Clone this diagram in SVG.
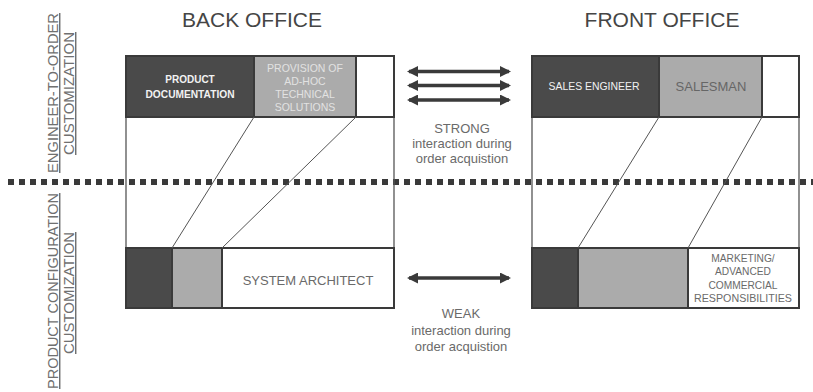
<svg xmlns="http://www.w3.org/2000/svg" width="813" height="392" viewBox="0 0 813 392">
<defs>
<style>
.frame{fill:none;stroke:#555;stroke-width:1.3}
.dark{fill:#4a4a4a;stroke:#3a3a3a;stroke-width:2}
.gray{fill:#ababab;stroke:#3a3a3a;stroke-width:2}
.white{fill:#fff;stroke:#3a3a3a;stroke-width:2}
.t{font-family:"Liberation Sans",Arial,sans-serif;text-anchor:middle}
.head{font-size:21px;fill:#454545}
.side{font-size:14.5px;fill:#707070;text-decoration:underline}
.wt{font-size:10px;fill:#f2f2f2;font-weight:bold}
.lt{font-size:10.5px;fill:#e2e2e2}
.mid{font-size:13px;fill:#6a6a6a}
.small{font-size:10.2px;fill:#6a6a6a}
.diag{stroke:#555;stroke-width:1;fill:none}
.arrow{stroke:#3a3a3a;stroke-width:3.5;marker-start:url(#ah);marker-end:url(#ah)}
.dots{stroke:#3a3a3a;stroke-width:6;stroke-dasharray:6 5}
</style>
<marker id="ah" viewBox="0 0 11 11" refX="9" refY="5.5" markerWidth="11" markerHeight="11" markerUnits="userSpaceOnUse" orient="auto-start-reverse">
<path d="M0,0 L11,5.5 L0,11 Z" fill="#3a3a3a"/>
</marker>
</defs>
<rect width="813" height="392" fill="#fff"/>

<g id="labels">
<text class="t head" x="252" y="27">BACK OFFICE</text>
<text class="t head" x="662" y="27">FRONT OFFICE</text>
<text class="t side" transform="translate(58,93) rotate(-90)" textLength="160" lengthAdjust="spacingAndGlyphs">ENGINEER-TO-ORDER</text>
<text class="t side" transform="translate(74,93.5) rotate(-90)" textLength="123" lengthAdjust="spacingAndGlyphs">CUSTOMIZATION</text>
<text class="t side" transform="translate(58,291) rotate(-90)" textLength="196" lengthAdjust="spacingAndGlyphs">PRODUCT CONFIGURATION</text>
<text class="t side" transform="translate(74,293) rotate(-90)" textLength="122" lengthAdjust="spacingAndGlyphs">CUSTOMIZATION</text>
</g>

<line id="divider" class="dots" x1="8" y1="182" x2="813" y2="182"/>

<g id="back-office">
<line class="frame" x1="126" y1="56" x2="126" y2="308"/>
<line class="frame" x1="394" y1="56" x2="394" y2="308"/>
<g id="product-documentation">
<rect class="dark" x="126" y="56" width="128" height="61"/>
<text class="t wt" x="190" y="83">PRODUCT</text>
<text class="t wt" x="190" y="97.5" textLength="89" lengthAdjust="spacingAndGlyphs">DOCUMENTATION</text>
</g>
<g id="provision-adhoc">
<rect class="gray" x="254" y="56" width="102" height="61"/>
<text class="t lt" x="305" y="72">PROVISION OF</text>
<text class="t lt" x="305" y="85">AD-HOC</text>
<text class="t lt" x="305" y="98">TECHNICAL</text>
<text class="t lt" x="305" y="111">SOLUTIONS</text>
</g>
<g id="bo-top-empty"><rect class="white" x="356" y="56" width="38" height="61"/></g>
<g id="bo-bottom-dark"><rect class="dark" x="126" y="248" width="46" height="60"/></g>
<g id="bo-bottom-gray"><rect class="gray" x="172" y="248" width="50" height="60"/></g>
<g id="system-architect">
<rect class="white" x="222" y="248" width="172" height="60"/>
<text class="t mid" x="308" y="284.5">SYSTEM ARCHITECT</text>
</g>
</g>

<g id="front-office">
<line class="frame" x1="532" y1="56" x2="532" y2="308"/>
<line class="frame" x1="799" y1="56" x2="799" y2="308"/>
<g id="sales-engineer">
<rect class="dark" x="532" y="56" width="127" height="61"/>
<text class="t wt" x="594" y="90" style="font-weight:normal" textLength="91" lengthAdjust="spacingAndGlyphs">SALES ENGINEER</text>
</g>
<g id="salesman">
<rect class="gray" x="659" y="56" width="103" height="61"/>
<text class="t mid" x="711" y="91" style="fill:#666">SALESMAN</text>
</g>
<g id="fo-top-empty"><rect class="white" x="762" y="56" width="37" height="61"/></g>
<g id="fo-bottom-dark"><rect class="dark" x="532" y="248" width="46" height="60"/></g>
<g id="fo-bottom-gray"><rect class="gray" x="578" y="248" width="110" height="60"/></g>
<g id="marketing">
<rect class="white" x="688" y="248" width="111" height="60"/>
<text class="t small" x="743" y="261.5">MARKETING/</text>
<text class="t small" x="743" y="275">ADVANCED</text>
<text class="t small" x="743" y="288.5">COMMERCIAL</text>
<text class="t small" x="743" y="302" textLength="98" lengthAdjust="spacingAndGlyphs">RESPONSIBILITIES</text>
</g>
</g>

<g id="connectors">
<line class="diag" x1="254" y1="117" x2="172" y2="248"/>
<line class="diag" x1="356" y1="117" x2="222" y2="248"/>
<line class="diag" x1="659" y1="117" x2="578" y2="248"/>
<line class="diag" x1="762" y1="117" x2="688" y2="248"/>
<line class="arrow" x1="409" y1="71.5" x2="509" y2="71.5"/>
<line class="arrow" x1="409" y1="85.5" x2="509" y2="85.5"/>
<line class="arrow" x1="409" y1="100" x2="509" y2="100"/>
<line class="arrow" x1="409" y1="278" x2="509" y2="278"/>
</g>

<g id="interaction-labels">
<text class="t mid" x="462" y="133">STRONG</text>
<text class="t mid" x="462" y="148">interaction during</text>
<text class="t mid" x="462" y="163">order acquistion</text>
<text class="t mid" x="461" y="318">WEAK</text>
<text class="t mid" x="461" y="334.5">interaction during</text>
<text class="t mid" x="461" y="351">order acquistion</text>
</g>
</svg>
